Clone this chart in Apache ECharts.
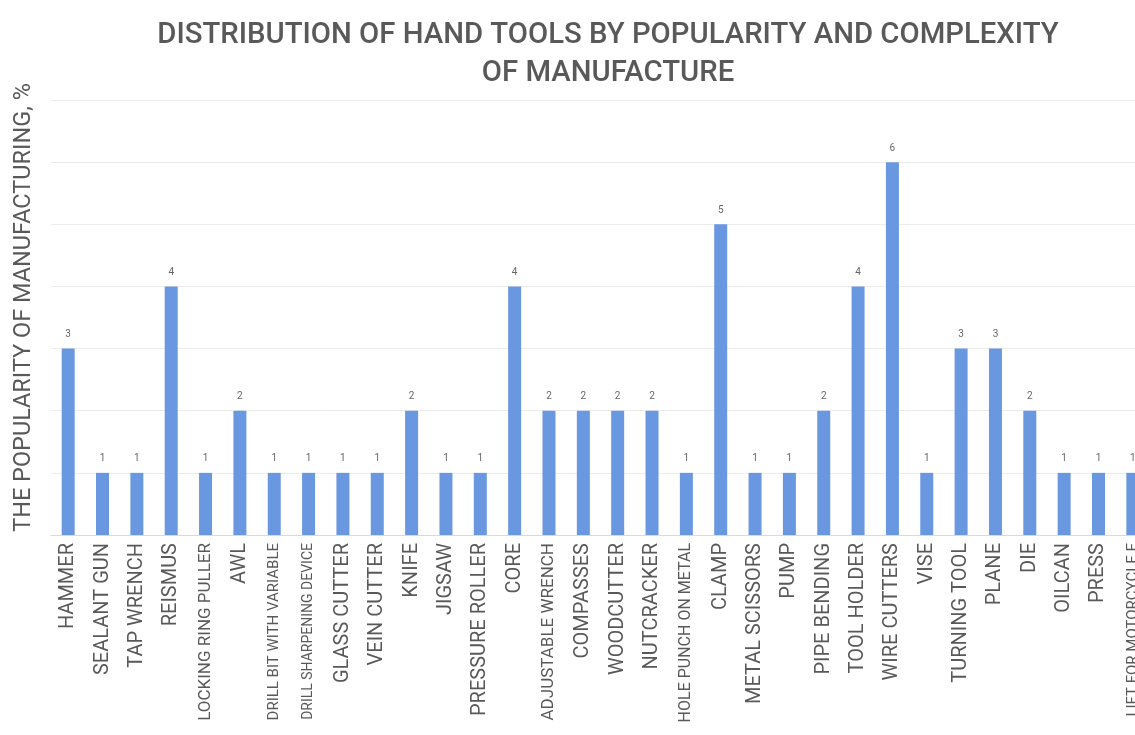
<!DOCTYPE html>
<html>
<head>
<meta charset="utf-8">
<script src="https://cdn.jsdelivr.net/npm/echarts@6/dist/echarts.min.js"></script>
<style>
  html, body { margin: 0; padding: 0; background: #fff; }
  #chart { width: 1135px; height: 735px; }
</style>
</head>
<body>
<div id="chart"></div>
<script>
// tool names (x axis) and popularity values
const tools = [
  'HAMMER', 'SEALANT GUN', 'TAP WRENCH', 'REISMUS', 'LOCKING RING PULLER', 'AWL',
  'DRILL BIT WITH VARIABLE', 'DRILL SHARPENING DEVICE', 'GLASS CUTTER', 'VEIN CUTTER',
  'KNIFE', 'JIGSAW', 'PRESSURE ROLLER', 'CORE', 'ADJUSTABLE WRENCH', 'COMPASSES',
  'WOODCUTTER', 'NUTCRACKER', 'HOLE PUNCH ON METAL', 'CLAMP', 'METAL SCISSORS', 'PUMP',
  'PIPE BENDING', 'TOOL HOLDER', 'WIRE CUTTERS', 'VISE', 'TURNING TOOL', 'PLANE', 'DIE',
  'OILCAN', 'PRESS', 'LIFT FOR MOTORCYCLE E'
];
const popularity = [
  3, 1, 1, 4, 1, 2,
  1, 1, 1, 1,
  2, 1, 1, 4, 2, 2,
  2, 2, 1, 5, 1, 1,
  2, 4, 6, 1, 3, 3, 2,
  1, 1, 1
];

const FONT = 'Roboto, "Noto Sans", sans-serif';
const COLOR_TEXT = '#595959';
const LABEL_SIZE = 20;

// long labels get shrunk so they fit under the axis
const measure = document.createElement('canvas').getContext('2d');
measure.font = LABEL_SIZE + 'px Roboto';
const rich = {};
for (let s = 10; s <= LABEL_SIZE; s++) {
  rich['s' + s] = { fontSize: s, fontFamily: FONT, color: COLOR_TEXT };
}
function fitLabel(v) {
  const w = measure.measureText(v).width;
  let size = LABEL_SIZE;
  if (w > 178) size = Math.max(14, Math.round(LABEL_SIZE * 178 / w));
  return '{s' + size + '|' + v + '}';
}

let myChart = echarts.init(document.getElementById('chart'));
myChart.setOption({
  backgroundColor: '#fff',
  animation: false,
  title: {
    text: 'DISTRIBUTION OF HAND TOOLS BY POPULARITY AND COMPLEXITY\nOF MANUFACTURE',
    left: 603,
    textAlign: 'center',
    top: 12,
    textStyle: {
      color: COLOR_TEXT,
      fontFamily: FONT,
      fontSize: 29.3,
      fontWeight: 500,
      lineHeight: 38
    }
  },
  grid: {
    left: 51,
    top: 100,
    bottom: 200,
    width: 1099,
    containLabel: false,
    outerBoundsMode: 'none'
  },
  xAxis: {
    type: 'category',
    data: tools,
    axisLine: { lineStyle: { color: '#d9d9d9' } },
    axisTick: { show: false },
    axisLabel: {
      interval: 0,
      rotate: 90,
      margin: 8,
      color: COLOR_TEXT,
      fontFamily: FONT,
      fontSize: LABEL_SIZE,
      formatter: fitLabel,
      rich: rich
    }
  },
  yAxis: {
    type: 'value',
    min: 0,
    max: 7,
    interval: 1,
    name: 'THE POPULARITY OF MANUFACTURING, %',
    nameLocation: 'middle',
    nameGap: 15,
    nameTextStyle: {
      color: COLOR_TEXT,
      fontFamily: FONT,
      fontSize: 23.5,
      padding: [0, 0, 0, 20]
    },
    axisLine: { show: false },
    axisTick: { show: false },
    axisLabel: { show: false },
    splitLine: { lineStyle: { color: '#ececec' } }
  },
  series: [{
    type: 'bar',
    data: popularity,
    barWidth: 13,
    itemStyle: { color: '#6a98e0' },
    label: {
      show: true,
      position: 'top',
      distance: 9,
      color: '#666',
      fontFamily: FONT,
      fontSize: 10
    }
  }]
});
</script>
</body>
</html>
